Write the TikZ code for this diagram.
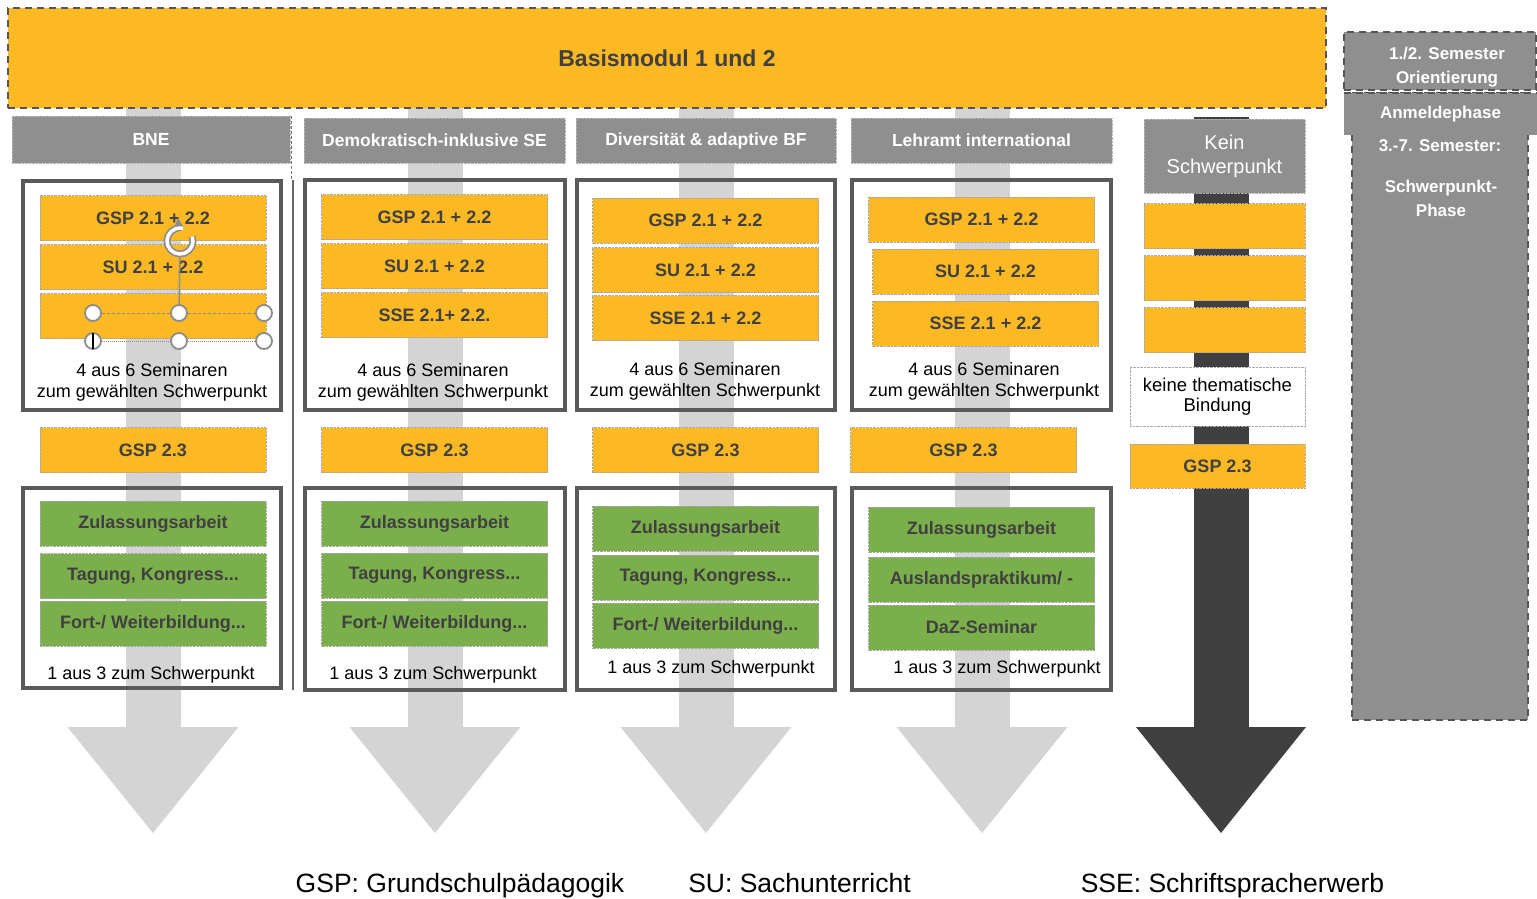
\documentclass[tikz,border=0pt]{standalone}
\usepackage{fontspec}
\setmainfont{Liberation Sans}
\usepackage{xcolor}
\usetikzlibrary{arrows.meta, shapes}

\definecolor{modorange}{HTML}{FDB924}
\definecolor{modgreen}{HTML}{7AAF4B}
\definecolor{headgray}{HTML}{8F8F8F}
\definecolor{framegray}{HTML}{5A5A5A}
\definecolor{shaftgray}{HTML}{D4D4D4}
\definecolor{darkshaft}{HTML}{404040}
\definecolor{labelgray}{HTML}{404040}
\definecolor{dashgray}{HTML}{555555}

\tikzset{
  orangebox/.style={rectangle, fill=modorange, draw=black!35, densely dotted, inner sep=0pt,
    minimum width=226pt, minimum height=45pt, text=labelgray, font=\fontsize{18}{21}\selectfont\bfseries},
  greenbox/.style={orangebox, fill=modgreen},
  headbox/.style={rectangle, fill=headgray, draw=black!30, densely dotted, inner sep=0pt,
    minimum width=261pt, minimum height=45pt, text=white, font=\fontsize{17.5}{21}\selectfont\bfseries},
  framebox/.style={rectangle, draw=framegray, line width=3.5pt, inner sep=0pt, minimum width=258pt},
  plaintext/.style={font=\fontsize{18}{21}\selectfont, align=center, inner sep=0pt},
  phasebox/.style={rectangle, fill=headgray, draw=dashgray, dashed, dash pattern=on 7pt off 5pt,
    line width=2.5pt, inner sep=0pt},
  phasetext/.style={text=white, inner sep=0pt, align=center, font=\fontsize{17}{24}\selectfont\bfseries},
  handle/.style={circle, draw=black!45, fill=white, line width=1.8pt, minimum size=16pt, inner sep=0pt},
}

\begin{document}
\begin{tikzpicture}[x=1pt, y=-1pt]
\useasboundingbox (0,0) rectangle (1537,899);

% arrows behind everything
\foreach \c in {153,435,706,982} {
  \fill[shaftgray] (\c-27.5,108) rectangle (\c+27.5,728);
  \fill[shaftgray] (\c-85.5,727) -- (\c+85.5,727) -- (\c,833) -- cycle;
}
\fill[darkshaft] (1193.5,117) rectangle (1248.5,728);
\fill[darkshaft] (1136,727) -- (1306,727) -- (1221,833) -- cycle;

% top banner
\node[rectangle, fill=modorange, draw=dashgray, dashed, dash pattern=on 7pt off 5pt, line width=2.5pt,
      minimum width=1318pt, minimum height=100pt, text=labelgray,
      font=\fontsize{23}{26}\selectfont\bfseries] (basis) at (667,58) {Basismodul 1 und 2};

% phases on the right
\node[phasebox, minimum width=176pt, minimum height=627pt] (phase) at (1440,406.5) {};
\node[phasebox, minimum width=192pt, minimum height=58pt] (orient) at (1440,61) {};
\node[phasetext] (orienttext) at (1447,67) {1./2. Semester\\Orientierung};
\node[rectangle, fill=headgray, inner sep=0pt, minimum width=193pt, minimum height=42pt, text=white,
      font=\fontsize{17}{21}\selectfont\bfseries] (anmelde) at (1440.5,114) {Anmeldephase};
\draw[draw=dashgray, dashed, dash pattern=on 7pt off 5pt, line width=2.5pt] (anmelde.north west) -- (anmelde.north east);
\node[phasetext] (semester) at (1440,146) {3.-7. Semester:};
\node[phasetext] (spphase) at (1441,198) {Schwerpunkt-\\Phase};

% column 1: BNE
\draw[black!55, line width=1pt, densely dashed] (291,116) -- (291,180);
\draw[black!60, line width=1.2pt] (293,180) -- (293,690);
\node[headbox, minimum width=278pt, minimum height=47pt] (head1) at (151,139.5) {BNE};
\node[framebox, minimum height=229pt] (frame1a) at (152,295.5) {};
\node[orangebox] (c1gsp) at (153,218) {GSP 2.1 + 2.2};
\node[orangebox] (c1su) at (153,267) {SU 2.1 + 2.2};
\node[orangebox] (c1sse) at (153,316) {};
\node[plaintext] (c1sem) at (152,382) {4 aus 6 Seminaren\\zum gewählten Schwerpunkt};
\node[orangebox] (c1gsp3) at (153,450) {GSP 2.3};
\node[framebox, minimum height=200pt] (frame1b) at (152,588) {};
\node[greenbox] (c1zul) at (153,523.5) {Zulassungsarbeit};
\node[greenbox] (c1tag) at (153,576) {Tagung, Kongress...};
\node[greenbox] (c1fort) at (153,623.5) {Fort-/ Weiterbildung...};
\node[plaintext] (c1wahl) at (151,675) {1 aus 3 zum Schwerpunkt};

% selection handles in column 1
\node[handle] (h1) at (93,313) {};
\node[handle] (h2) at (179,313) {};
\node[handle] (h3) at (264,313) {};
\node[handle] (h4) at (93,341) {};
\node[handle] (h5) at (179,341) {};
\node[handle] (h6) at (264,341) {};
\draw[black!45, densely dashed, line width=1pt] (h1) -- (h2) -- (h3);
\draw[black!45, densely dotted, line width=1pt] (h4) -- (h5) -- (h6);
\coordinate (rot) at (180,241);
\draw[black!45, line width=1.5pt] (rot) ++(0,14) -- (h2);
\draw[black!45, line width=7pt, -{Triangle[length=10pt, width=16pt]}] (rot) ++(-20:13) arc[start angle=-20, end angle=290, radius=13];
\draw[white, line width=3.5pt] (rot) ++(-20:13) arc[start angle=-20, end angle=285, radius=13];
\draw[black, line width=1.5pt] (93,333) -- (93,349);

% column 2: Demokratisch-inklusive SE
\node[headbox] (head2) at (434.5,140.5) {Demokratisch-inklusive SE};
\node[framebox, minimum width=260pt, minimum height=230pt] (frame2a) at (435,295) {};
\node[orangebox] (c2gsp) at (434.5,217) {GSP 2.1 + 2.2};
\node[orangebox] (c2su) at (434.5,266) {SU 2.1 + 2.2};
\node[orangebox] (c2sse) at (434.5,315) {SSE 2.1+ 2.2.};
\node[plaintext] (c2sem) at (433,382) {4 aus 6 Seminaren\\zum gewählten Schwerpunkt};
\node[orangebox] (c2gsp3) at (434.5,450) {GSP 2.3};
\node[framebox, minimum width=260pt, minimum height=202pt] (frame2b) at (435,589) {};
\node[greenbox] (c2zul) at (434.5,523.5) {Zulassungsarbeit};
\node[greenbox] (c2tag) at (434.5,575.5) {Tagung, Kongress...};
\node[greenbox] (c2fort) at (434.5,623.5) {Fort-/ Weiterbildung...};
\node[plaintext] (c2wahl) at (433,675) {1 aus 3 zum Schwerpunkt};

% column 3: Diversitaet
\node[headbox, minimum width=260pt] (head3) at (706,140.5) {Diversität \& adaptive BF};
\node[framebox, minimum height=230pt] (frame3a) at (706,295) {};
\node[orangebox] (c3gsp) at (705.5,220.5) {GSP 2.1 + 2.2};
\node[orangebox] (c3su) at (705.5,270) {SU 2.1 + 2.2};
\node[orangebox] (c3sse) at (705.5,318) {SSE 2.1 + 2.2};
\node[plaintext] (c3sem) at (705,381) {4 aus 6 Seminaren\\zum gewählten Schwerpunkt};
\node[orangebox] (c3gsp3) at (705.5,450) {GSP 2.3};
\node[framebox, minimum height=202pt] (frame3b) at (706,589) {};
\node[greenbox] (c3zul) at (705.5,528.5) {Zulassungsarbeit};
\node[greenbox] (c3tag) at (705.5,577.5) {Tagung, Kongress...};
\node[greenbox] (c3fort) at (705.5,625.5) {Fort-/ Weiterbildung...};
\node[plaintext] (c3wahl) at (711,669) {1 aus 3 zum Schwerpunkt};

% column 4: Lehramt international
\node[headbox] (head4) at (981.5,140.5) {Lehramt international};
\node[framebox, minimum width=259pt, minimum height=230pt] (frame4a) at (981.5,295) {};
\node[orangebox] (c4gsp) at (981.5,219.5) {GSP 2.1 + 2.2};
\node[orangebox] (c4su) at (985.5,271.5) {SU 2.1 + 2.2};
\node[orangebox] (c4sse) at (985.5,323.5) {SSE 2.1 + 2.2};
\node[plaintext] (c4sem) at (984,381) {4 aus 6 Seminaren\\zum gewählten Schwerpunkt};
\node[orangebox] (c4gsp3) at (963.5,450) {GSP 2.3};
\node[framebox, minimum width=259pt, minimum height=202pt] (frame4b) at (981.5,589) {};
\node[greenbox] (c4zul) at (981.5,529.5) {Zulassungsarbeit};
\node[greenbox] (c4aus) at (981.5,579.5) {Auslandspraktikum/ -};
\node[greenbox] (c4daz) at (981.5,627.5) {DaZ-Seminar};
\node[plaintext] (c4wahl) at (997,669) {1 aus 3 zum Schwerpunkt};

% column 5: kein Schwerpunkt
\node[headbox, minimum width=161pt, minimum height=74pt, align=center,
      font=\fontsize{20}{24}\selectfont] (head5) at (1224.5,156) {Kein\\Schwerpunkt};
\node[orangebox, minimum width=161pt] (c5a) at (1224.5,226) {};
\node[orangebox, minimum width=161pt] (c5b) at (1224.5,278) {};
\node[orangebox, minimum width=161pt] (c5c) at (1224.5,330) {};
\node[rectangle, fill=white, draw=black!35, densely dotted, inner sep=0pt, minimum width=175pt,
      minimum height=59pt, align=center, font=\fontsize{18.5}{20}\selectfont] (c5frei) at (1217.5,396.5) {keine thematische\\Bindung};
\node[orangebox, minimum width=175pt, minimum height=44pt] (c5gsp3) at (1217.5,466) {GSP 2.3};

% legend
\begin{scope}[every node/.style={anchor=base, inner sep=0pt, font=\fontsize{26.5}{30}\selectfont}]
  \node (legGSP) at (460,892) {GSP: Grundschulpädagogik};
  \node (legSU) at (799.5,892) {SU: Sachunterricht};
  \node (legSSE) at (1232.5,892) {SSE: Schriftspracherwerb};
\end{scope}
\end{tikzpicture}
\end{document}
